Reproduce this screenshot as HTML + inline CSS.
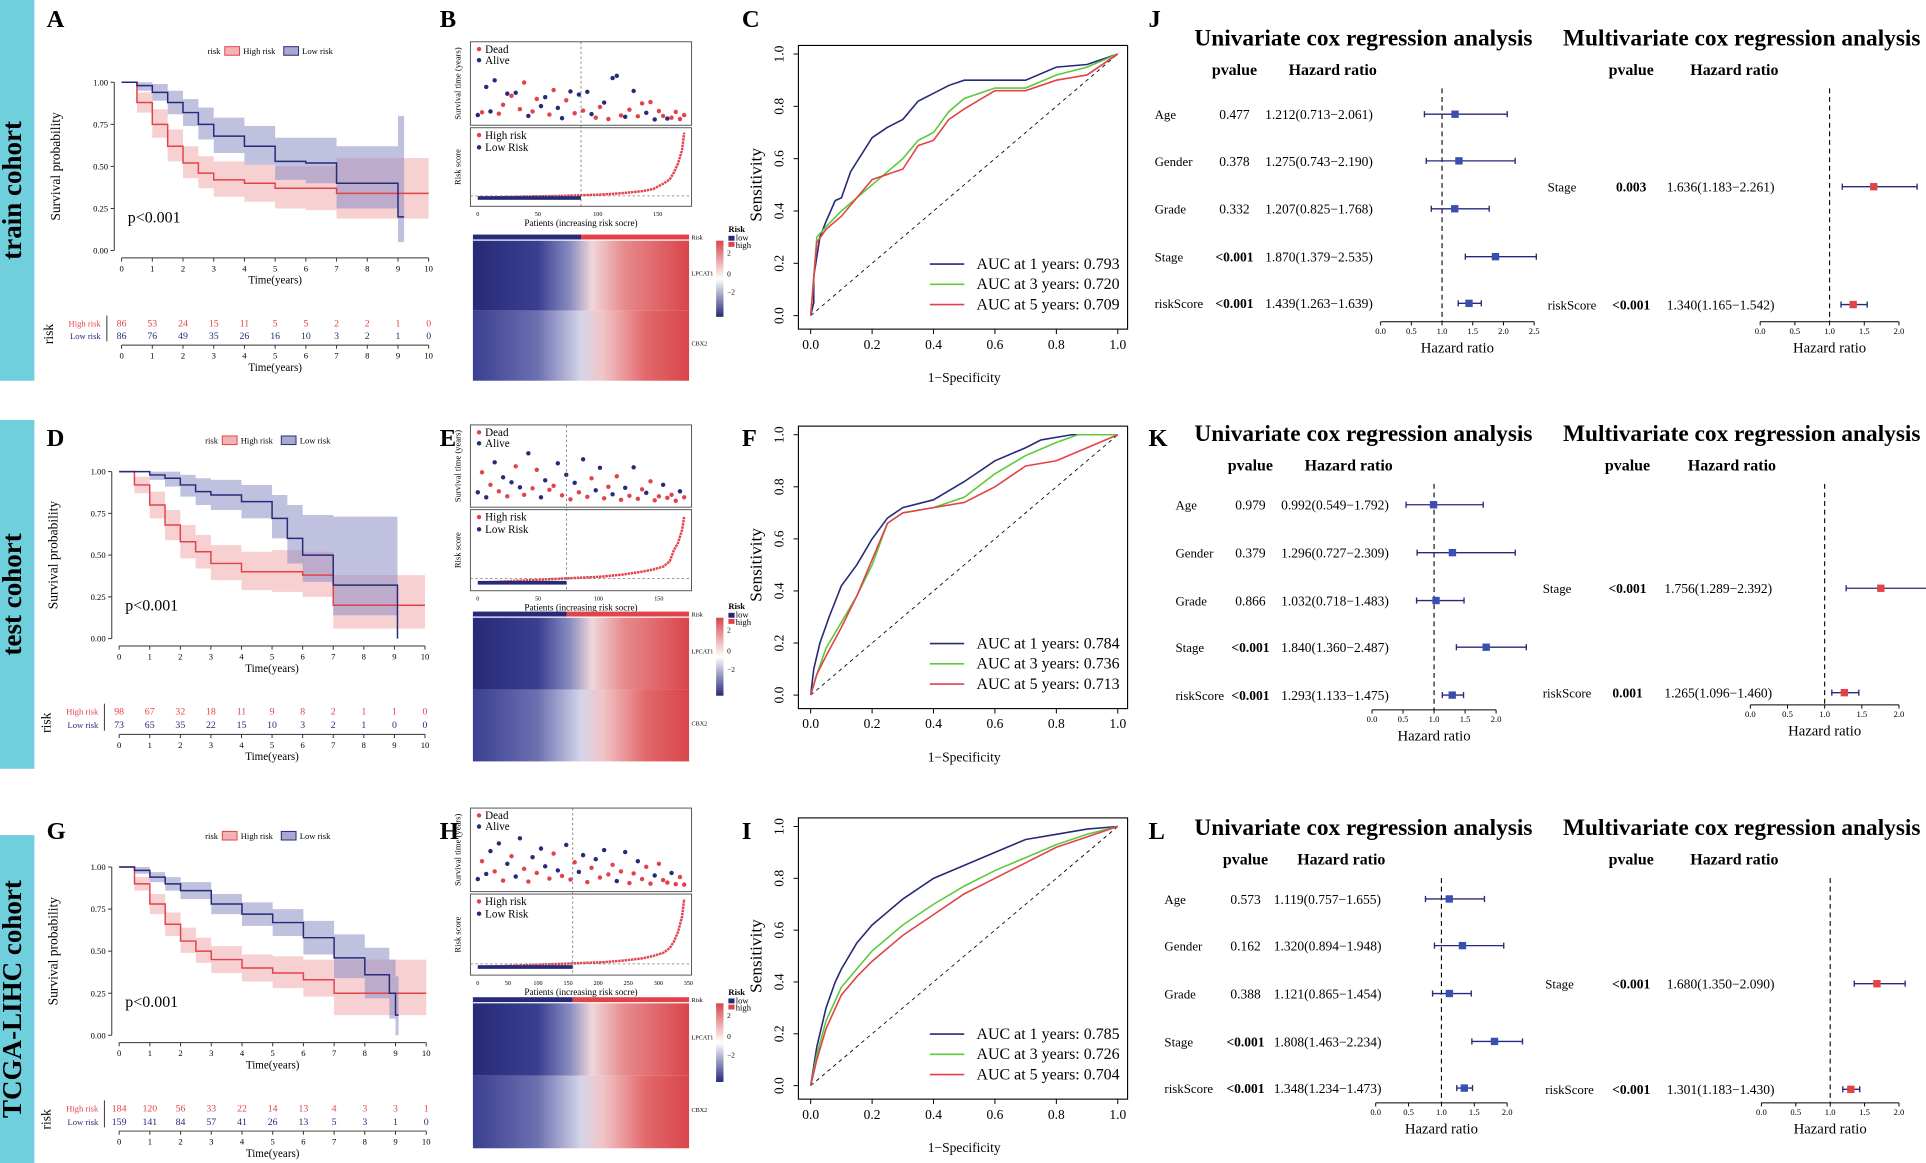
<!DOCTYPE html>
<html><head><meta charset="utf-8"><style>
html,body{margin:0;padding:0;background:#fff;width:1926px;height:1163px;overflow:hidden}
svg{display:block}
text{font-family:"Liberation Serif",serif}
</style></head><body>
<svg id="fig" width="1926" height="1163" viewBox="0 0 1568 947" preserveAspectRatio="none" xmlns="http://www.w3.org/2000/svg"></svg>
<script>
// ---------- DATA ----------
const kmTimes = [0,1,2,3,4,5,6,7,8,9,10];
const trainHighN = [86,53,24,15,11,5,5,2,2,1,0];
const trainLowN = [86,76,49,35,26,16,10,3,2,1,0];
const testHighN = [98,67,32,18,11,9,8,2,1,1,0];
const testLowN = [73,65,35,22,15,10,3,2,1,0,0];
const tcgaHighN = [184,120,56,33,22,14,13,4,3,3,1];
const tcgaLowN = [159,141,84,57,41,26,13,5,3,1,0];

const trainHighT = [0,0.5,1,1.5,2,2.5,3,4,5,6,7,8,10];
const trainHighS = [1,0.88,0.75,0.62,0.52,0.46,0.42,0.40,0.37,0.37,0.34,0.34,0.34];
const trainHighL = [1,0.82,0.67,0.53,0.43,0.37,0.32,0.29,0.25,0.24,0.19,0.19,0.19];
const trainHighU = [1,0.94,0.84,0.72,0.62,0.56,0.53,0.51,0.50,0.50,0.55,0.55,0.55];
const trainLowT = [0,0.5,1,1.5,2,2.5,3,4,5,6,7,8,9,9.2];
const trainLowS = [1,0.98,0.94,0.88,0.82,0.75,0.68,0.62,0.53,0.52,0.40,0.40,0.20,0.20];
const trainLowL = [1,0.95,0.89,0.81,0.74,0.66,0.58,0.51,0.42,0.40,0.25,0.25,0.05,0.05];
const trainLowU = [1,1,0.99,0.95,0.90,0.85,0.79,0.74,0.67,0.67,0.62,0.62,0.80,0.80];

const testHighT = [0,0.5,1,1.5,2,2.5,3,4,5,6,7,8,9,10];
const testHighS = [1,0.92,0.80,0.68,0.58,0.52,0.45,0.40,0.40,0.38,0.20,0.20,0.20,0.20];
const testHighL = [1,0.87,0.72,0.59,0.48,0.42,0.35,0.29,0.28,0.25,0.06,0.06,0.06,0.06];
const testHighU = [1,0.97,0.88,0.77,0.68,0.62,0.56,0.52,0.53,0.52,0.38,0.38,0.38,0.38];
const testLowT = [0,1,1.5,2,2.5,3,4,5,5.5,6,7,8,9,9.1];
const testLowS = [1,0.98,0.96,0.92,0.88,0.86,0.82,0.72,0.60,0.50,0.32,0.32,0.32,0];
const testLowL = [1,0.95,0.91,0.85,0.80,0.77,0.72,0.60,0.45,0.34,0.14,0.14,0.14,0];
const testLowU = [1,1,1,0.98,0.96,0.95,0.92,0.86,0.80,0.74,0.73,0.73,0.73,0.73];

const tcgaHighT = [0,0.5,1,1.5,2,2.5,3,4,5,6,7,8,9,10];
const tcgaHighS = [1,0.9,0.78,0.66,0.56,0.50,0.45,0.40,0.37,0.33,0.25,0.25,0.25,0.25];
const tcgaHighL = [1,0.86,0.72,0.59,0.49,0.43,0.37,0.32,0.28,0.23,0.12,0.12,0.12,0.12];
const tcgaHighU = [1,0.94,0.84,0.73,0.64,0.58,0.53,0.48,0.47,0.45,0.45,0.45,0.45,0.45];
const tcgaLowT = [0,0.5,1,1.5,2,3,4,5,6,7,8,8.8,9,9.1];
const tcgaLowS = [1,0.98,0.94,0.90,0.86,0.78,0.72,0.67,0.58,0.46,0.36,0.25,0.12,0.12];
const tcgaLowL = [1,0.96,0.91,0.86,0.81,0.72,0.65,0.59,0.48,0.34,0.22,0.10,0.00,0.00];
const tcgaLowU = [1,1,0.97,0.94,0.91,0.84,0.79,0.75,0.68,0.60,0.52,0.45,0.35,0.35];

// ROC
const rocTrain1X = [0,0.01,0.01,0.03,0.05,0.08,0.1,0.13,0.2,0.25,0.3,0.35,0.4,0.45,0.5,0.6,0.7,0.8,0.9,1];
const rocTrain1Y = [0,0.05,0.15,0.3,0.36,0.44,0.45,0.55,0.68,0.72,0.75,0.82,0.85,0.88,0.9,0.9,0.9,0.95,0.96,1];
const rocTrain3X = [0,0.02,0.05,0.1,0.15,0.2,0.3,0.35,0.4,0.45,0.5,0.6,0.7,0.8,0.9,1];
const rocTrain3Y = [0,0.3,0.34,0.4,0.45,0.5,0.6,0.67,0.7,0.78,0.83,0.87,0.87,0.92,0.95,1];
const rocTrain5X = [0,0.02,0.05,0.1,0.15,0.2,0.3,0.35,0.4,0.45,0.5,0.6,0.7,0.8,0.9,1];
const rocTrain5Y = [0,0.28,0.33,0.38,0.45,0.52,0.56,0.65,0.67,0.75,0.79,0.86,0.86,0.9,0.92,1];
const rocTest1X = [0,0.01,0.03,0.06,0.1,0.15,0.2,0.25,0.3,0.4,0.5,0.6,0.7,0.75,0.85,1];
const rocTest1Y = [0,0.1,0.2,0.3,0.42,0.5,0.6,0.68,0.72,0.75,0.82,0.9,0.95,0.98,1,1];
const rocTest3X = [0,0.02,0.05,0.1,0.15,0.2,0.25,0.3,0.4,0.5,0.6,0.7,0.8,0.87,1];
const rocTest3Y = [0,0.08,0.18,0.28,0.38,0.5,0.66,0.7,0.72,0.76,0.85,0.92,0.97,1,1];
const rocTest5X = [0,0.02,0.05,0.1,0.15,0.2,0.25,0.3,0.4,0.5,0.6,0.7,0.8,0.9,1];
const rocTest5Y = [0,0.08,0.15,0.26,0.38,0.52,0.66,0.7,0.72,0.74,0.8,0.88,0.9,0.95,1];
const rocTcga1X = [0,0.02,0.05,0.08,0.1,0.15,0.2,0.3,0.4,0.5,0.6,0.7,0.8,0.9,1];
const rocTcga1Y = [0,0.15,0.3,0.4,0.45,0.55,0.62,0.72,0.8,0.85,0.9,0.95,0.97,0.99,1];
const rocTcga3X = [0,0.02,0.05,0.1,0.15,0.2,0.3,0.4,0.5,0.6,0.7,0.8,0.9,1];
const rocTcga3Y = [0,0.12,0.25,0.38,0.45,0.52,0.62,0.7,0.77,0.83,0.88,0.93,0.97,1];
const rocTcga5X = [0,0.02,0.05,0.1,0.15,0.2,0.3,0.4,0.5,0.6,0.7,0.8,0.9,1];
const rocTcga5Y = [0,0.1,0.22,0.35,0.42,0.48,0.58,0.66,0.74,0.8,0.86,0.92,0.96,1];
const aucLabels = ["AUC at 1 years: ","AUC at 3 years: ","AUC at 5 years: "];
const aucTrain = ["0.793","0.720","0.709"];
const aucTest = ["0.784","0.736","0.713"];
const aucTcga = ["0.785","0.726","0.704"];

// Risk plots
const trainSurv = [1.2,1.8,7.5,2,9,1.5,3.5,6,5.5,6.2,2.5,8.5,1,2,4.8,3.2,5.2,1.3,6.8,2.8,0.5,4.5,6.5,1.6,5.8,2.2,6.4,1.4,0.6,3,4,0.3,9.5,10,1.1,0.8,2.4,6.6,0.9,3.8,1.7,4.1,0.2,2.1,1,0.4,0.6,1.9,0.3,1.2];
const trainDead = [0,1,0,0,0,1,1,0,1,0,1,1,0,1,1,0,0,1,1,0,0,1,0,1,0,1,0,0,1,1,0,1,0,0,1,0,1,0,1,1,0,1,0,1,1,0,1,1,1,1];
const testSurv = [2,6,1,3.5,8,2.2,5,1.2,4,7.2,3,1.5,9.8,2.8,6.5,1,4.4,2.5,3.3,7.8,1.4,5.5,0.6,3.9,2,8.6,1.1,4.8,2.4,6.9,0.8,3.1,1.6,5.2,0.5,2.9,1.3,7,0.7,2.6,1.9,4.2,0.4,1.2,3.5,0.9,1.5,0.3,2.2,1];
const testDead = [0,1,0,1,0,1,0,1,0,1,0,1,0,1,1,0,0,1,1,0,1,0,1,0,1,0,1,1,0,0,1,1,0,1,1,0,1,0,1,1,0,1,1,1,0,1,1,1,0,1];
const tcgaSurv = [1.5,5,2.5,7,3,8.5,1.2,4.5,6,2,9.5,3.5,1,5.8,2.7,7.5,4,1.6,6.5,3.2,2.1,8.2,1.4,4.8,2.9,6.2,0.9,3.7,5.4,1.8,7.2,2.4,4.3,1.1,3,6.8,0.7,2.6,5,1.5,3.9,0.6,2.2,4.5,1.3,0.8,2.7,0.5,1.9,0.4];
const tcgaDead = [0,1,0,0,1,0,1,0,1,0,0,1,1,0,1,0,0,1,1,0,1,0,1,1,0,0,1,1,0,1,0,1,1,0,1,0,1,1,0,1,1,1,0,1,1,1,0,1,1,1];
const riskQ = [0,0.1,0.2,0.3,0.4,0.5,0.6,0.7,0.8,0.85,0.9,0.93,0.95,0.97,0.99,1];
const trainRisk = [0.5,0.6,0.7,0.75,0.8,0.9,1.0,1.2,1.5,1.8,2.6,3.2,4.2,5.5,7.5,10];
const testRisk = [0.3,0.4,0.5,0.6,0.7,0.8,0.9,1.1,1.4,1.6,1.9,2.4,3.5,4.2,5.5,6.8];
const tcgaRisk = [0.4,0.5,0.6,0.7,0.8,0.9,1.0,1.2,1.5,1.8,2.2,2.8,3.6,4.8,6.8,9];

// Forest
const uniVars = ["Age","Gender","Grade","Stage","riskScore"];
const multiVars = ["Stage","riskScore"];
const jUniP = ["0.477","0.378","0.332","<0.001","<0.001"];
const jUniHR = [1.212,1.275,1.207,1.870,1.439];
const jUniLo = [0.713,0.743,0.825,1.379,1.263];
const jUniHi = [2.061,2.190,1.768,2.535,1.639];
const jMulP = ["0.003","<0.001"];
const jMulHR = [1.636,1.340];
const jMulLo = [1.183,1.165];
const jMulHi = [2.261,1.542];
const kUniP = ["0.979","0.379","0.866","<0.001","<0.001"];
const kUniHR = [0.992,1.296,1.032,1.840,1.293];
const kUniLo = [0.549,0.727,0.718,1.360,1.133];
const kUniHi = [1.792,2.309,1.483,2.487,1.475];
const kMulP = ["<0.001","0.001"];
const kMulHR = [1.756,1.265];
const kMulLo = [1.289,1.096];
const kMulHi = [2.392,1.460];
const lUniP = ["0.573","0.162","0.388","<0.001","<0.001"];
const lUniHR = [1.119,1.320,1.121,1.808,1.348];
const lUniLo = [0.757,0.894,0.865,1.463,1.234];
const lUniHi = [1.655,1.948,1.454,2.234,1.473];
const lMulP = ["<0.001","<0.001"];
const lMulHR = [1.680,1.301];
const lMulLo = [1.350,1.183];
const lMulHi = [2.090,1.430];

// ---------- HELPERS ----------
const NS = "http://www.w3.org/2000/svg";
const svg = document.getElementById('fig');
const RED = "#e2434a", NAVY = "#262a78", GREEN = "#5ec93c";
function mk(tag, attrs, parent){
  const e = document.createElementNS(NS, tag);
  for (const k in attrs) e.setAttribute(k, attrs[k]);
  (parent || svg).appendChild(e);
  return e;
}
function txt(x, y, s, size, opts, parent){
  const o = Object.assign({x:x, y:y, 'font-size':size, fill:'#000'}, opts || {});
  const e = mk('text', o, parent);
  e.textContent = s;
  return e;
}
function fmt(v){ return v.toFixed(3); }

// ---------- SIDE BARS & PANEL LABELS ----------
const sideBars = [[0,0,310,"train cohort"],[0,342,284,"test cohort"],[0,680,267,"TCGA-LIHC cohort"]];
sideBars.forEach(b => {
  const r = mk('rect', {x:b[0], y:b[1], width:28, height:b[2], fill:'#6fcfdc'});
  
  
  const cx = 12, cy = b[1] + b[2]/2;
  const t = txt(cx, cy, b[3], 22, {'font-weight':'bold', 'text-anchor':'middle', 'dominant-baseline':'middle', transform:`rotate(-90 ${cx} ${cy})`});
  
  
});
const panelLabels = [["A",38,22],["B",358,22],["C",604,22],["J",935,22],["D",38,363],["E",358,363],["F",604,363],["K",935,363],["G",38,683],["H",358,683],["I",604,683],["L",935,683]];
panelLabels.forEach(p => {
  const t = txt(p[1], p[2], p[0], 20, {'font-family':'Liberation Sans, sans-serif', 'font-weight':'bold'});
  
  
});

// ---------- KM ----------
function stepPath(T, S, sx, sy){
  let d = `M${sx(T[0])},${sy(S[0])}`;
  for (let i = 1; i < T.length; i++) d += ` H${sx(T[i])} V${sy(S[i])}`;
  return d;
}
function bandPath(T, L, U, sx, sy){
  let pts = [];
  for (let i = 0; i < T.length; i++){
    const tn = i < T.length-1 ? T[i+1] : T[i];
    pts.push([sx(T[i]), sy(U[i])], [sx(tn), sy(U[i])]);
  }
  let low = [];
  for (let i = 0; i < T.length; i++){
    const tn = i < T.length-1 ? T[i+1] : T[i];
    low.push([sx(T[i]), sy(L[i])], [sx(tn), sy(L[i])]);
  }
  pts = pts.concat(low.reverse());
  return 'M' + pts.map(p => p.join(',')).join(' L') + ' Z';
}
function km(c){
  const g = mk('g', {});
  
  
  const sx = t => c.x0 + t/10*(c.x1-c.x0);
  const sy = s => c.yb - s*(c.yb-c.yt);
  const lx = c.x0 + 70, ly = c.yt - 26;
  txt(lx, ly+3, "risk", 7, {}, g);
  mk('rect', {x:lx+14, y:ly-3, width:12, height:7, fill:'#f3b3b5', stroke:RED, 'stroke-width':0.8}, g);
  txt(lx+29, ly+3, "High risk", 7, {}, g);
  mk('rect', {x:lx+62, y:ly-3, width:12, height:7, fill:'#a8a8d0', stroke:NAVY, 'stroke-width':0.8}, g);
  txt(lx+77, ly+3, "Low risk", 7, {}, g);
  const bh = mk('path', {d:bandPath(c.hT,c.hL,c.hU,sx,sy), fill:'#f1a9ab', opacity:0.55}, g);
  
  
  const bl = mk('path', {d:bandPath(c.lT,c.lL,c.lU,sx,sy), fill:'#8c8cc4', opacity:0.55}, g);
  
  
  const ph = mk('path', {d:stepPath(c.hT,c.hS,sx,sy), fill:'none', stroke:RED, 'stroke-width':1.2}, g);
  
  
  const pl = mk('path', {d:stepPath(c.lT,c.lS,sx,sy), fill:'none', stroke:NAVY, 'stroke-width':1.2}, g);
  
  
  const ax = c.x0 - 6;
  mk('line', {x1:ax, y1:sy(0), x2:ax, y2:sy(1), stroke:'#333', 'stroke-width':0.8}, g);
  [0,0.25,0.5,0.75,1].forEach(v => {
    mk('line', {x1:ax-3, y1:sy(v), x2:ax, y2:sy(v), stroke:'#333', 'stroke-width':0.8}, g);
    txt(ax-5, sy(v)+2.5, v.toFixed(2), 7, {'text-anchor':'end'}, g);
  });
  const ay = c.yb + 6;
  mk('line', {x1:sx(0), y1:ay, x2:sx(10), y2:ay, stroke:'#333', 'stroke-width':0.8}, g);
  kmTimes.forEach(t => {
    mk('line', {x1:sx(t), y1:ay, x2:sx(t), y2:ay+3, stroke:'#333', 'stroke-width':0.8}, g);
    txt(sx(t), ay+11, String(t), 7, {'text-anchor':'middle'}, g);
  });
  txt((c.x0+c.x1)/2, ay+21, "Time(years)", 9, {'text-anchor':'middle'}, g);
  const yl = txt(c.x0-50, (c.yt+c.yb)/2, "Survival probability", 11, {'text-anchor':'middle', transform:`rotate(-90 ${c.x0-50} ${(c.yt+c.yb)/2})`}, g);
  
  
  txt(c.x0+5, c.pvy, "p<0.001", 13, {}, g);
  txt(c.x0-17, c.ty1+3, "High risk", 7, {'text-anchor':'end', fill:RED}, g);
  txt(c.x0-17, c.ty2+3, "Low risk", 7, {'text-anchor':'end', fill:NAVY}, g);
  txt(c.x0-56, (c.ty1+c.ty2)/2+4, "risk", 11, {'text-anchor':'middle', transform:`rotate(-90 ${c.x0-56} ${(c.ty1+c.ty2)/2+4})`}, g);
  kmTimes.forEach((t,i) => {
    txt(sx(t), c.ty1+3, String(c.hN[i]), 8, {'text-anchor':'middle', fill:RED}, g);
    txt(sx(t), c.ty2+3, String(c.lN[i]), 8, {'text-anchor':'middle', fill:NAVY}, g);
  });
  const ty = c.ty2 + 8;
  mk('line', {x1:sx(0), y1:ty, x2:sx(10), y2:ty, stroke:'#333', 'stroke-width':0.8}, g);
  mk('line', {x1:c.x0-12, y1:c.ty1-6, x2:c.x0-12, y2:c.ty2+5, stroke:'#333', 'stroke-width':0.8}, g);
  kmTimes.forEach(t => {
    mk('line', {x1:sx(t), y1:ty, x2:sx(t), y2:ty+3, stroke:'#333', 'stroke-width':0.8}, g);
    txt(sx(t), ty+11, String(t), 7, {'text-anchor':'middle'}, g);
  });
  txt((c.x0+c.x1)/2, ty+21, "Time(years)", 9, {'text-anchor':'middle'}, g);
}
km({name:'km-train', x0:99, x1:349, yt:67, yb:204, pvy:181, ty1:263, ty2:273, hT:trainHighT,hS:trainHighS,hL:trainHighL,hU:trainHighU, lT:trainLowT,lS:trainLowS,lL:trainLowL,lU:trainLowU, hN:trainHighN, lN:trainLowN});
km({name:'km-test', x0:97, x1:346, yt:384, yb:520, pvy:497, ty1:579, ty2:590, hT:testHighT,hS:testHighS,hL:testHighL,hU:testHighU, lT:testLowT,lS:testLowS,lL:testLowL,lU:testLowU, hN:testHighN, lN:testLowN});
km({name:'km-tcga', x0:97, x1:347, yt:706, yb:843, pvy:820, ty1:902, ty2:913, hT:tcgaHighT,hS:tcgaHighS,hL:tcgaHighL,hU:tcgaHighU, lT:tcgaLowT,lS:tcgaLowS,lL:tcgaLowL,lU:tcgaLowU, hN:tcgaHighN, lN:tcgaLowN});

// ---------- RISK PLOTS ----------
function riskPlot(c){
  const g = mk('g', {});
  
  
  const X0 = 383, X1 = 563;
  const n = c.surv.length;
  const px = i => X0 + 6 + i/(n-1)*(X1-X0-12);
  const cut = X0 + 6 + c.cut*(X1-X0-12);
  mk('rect', {x:X0, y:c.t0, width:X1-X0, height:c.t1-c.t0, fill:'none', stroke:'#555', 'stroke-width':0.8}, g);
  const sy = v => c.t1 - 4 - v/c.smax*(c.t1-c.t0-10);
  c.surv.forEach((v,i) => {
    const d = mk('circle', {cx:px(i), cy:sy(v), r:1.8, fill:c.dead[i] ? RED : NAVY}, g);
    
    
  });
  mk('circle', {cx:X0+7, cy:c.t0+6, r:1.8, fill:RED}, g);
  txt(X0+12, c.t0+9, "Dead", 9, {}, g);
  mk('circle', {cx:X0+7, cy:c.t0+15, r:1.8, fill:NAVY}, g);
  txt(X0+12, c.t0+18, "Alive", 9, {}, g);
  txt(X0-8, (c.t0+c.t1)/2, "Survival time (years)", 7, {'text-anchor':'middle', transform:`rotate(-90 ${X0-8} ${(c.t0+c.t1)/2})`}, g);
  mk('rect', {x:X0, y:c.r0, width:X1-X0, height:c.r1-c.r0, fill:'none', stroke:'#555', 'stroke-width':0.8}, g);
  const ry = v => c.r1 - 4 - v/c.rmax*(c.r1-c.r0-8);
  const rx = q => X0 + 6 + q*(X1-X0-12);
  let pts = c.risk.map((v,i) => rx(riskQ[i]) + ',' + ry(v)).join(' ');
  const pl1 = mk('polyline', {points:pts, fill:'none', stroke:RED, 'stroke-width':2, 'stroke-dasharray':'2 0.6'}, g);
  
  
  mk('rect', {x:X0+6, y:ry(c.risk[0])-1.5, width:cut-X0-6, height:3, fill:NAVY}, g);
  mk('line', {x1:X0, y1:ry(c.risk[4]), x2:X1, y2:ry(c.risk[4]), stroke:'#777', 'stroke-width':0.6, 'stroke-dasharray':'2 2'}, g);
  mk('circle', {cx:X0+7, cy:c.r0+6, r:1.8, fill:RED}, g);
  txt(X0+12, c.r0+9, "High risk", 9, {}, g);
  mk('circle', {cx:X0+7, cy:c.r0+16, r:1.8, fill:NAVY}, g);
  txt(X0+12, c.r0+19, "Low Risk", 9, {}, g);
  txt(X0-8, (c.r0+c.r1)/2, "Risk score", 7, {'text-anchor':'middle', transform:`rotate(-90 ${X0-8} ${(c.r0+c.r1)/2})`}, g);
  mk('line', {x1:cut, y1:c.t0, x2:cut, y2:c.r1, stroke:'#666', 'stroke-width':0.6, 'stroke-dasharray':'2 2'}, g);
  c.ticks.forEach(t => {
    txt(X0 + 6 + t/c.np*(X1-X0-12), c.r1+8, String(t), 5, {'text-anchor':'middle'}, g);
  });
  txt((X0+X1)/2, c.r1+16, "Patients (increasing risk socre)", 7.5, {'text-anchor':'middle'}, g);
  const h0 = c.h0, h1 = c.h1, hm = (h0+h1)/2;
  const hx0 = 385, hx1 = 561;
  mk('rect', {x:hx0, y:h0-5, width:cut-hx0, height:4, fill:NAVY}, g);
  mk('rect', {x:cut, y:h0-5, width:hx1-cut, height:4, fill:RED}, g);
  const hmap1 = mk('rect', {x:hx0, y:h0, width:hx1-hx0, height:hm-h0, fill:'url(#hg1)'}, g);
  
  
  const hmap2 = mk('rect', {x:hx0, y:hm, width:hx1-hx0, height:h1-hm, fill:'url(#hg2)'}, g);
  
  
  txt(hx1+2, h0-1, "Risk", 5, {}, g);
  txt(hx1+2, (h0+hm)/2, "LPCAT1", 5, {}, g);
  txt(hx1+2, (hm+h1)/2, "CBX2", 5, {}, g);
  mk('rect', {x:583, y:h0, width:6, height:hm-h0+5, fill:'url(#cb)'}, g);
  txt(592, h0+12, "2", 6, {}, g);
  txt(592, h0+29, "0", 6, {}, g);
  txt(592, h0+44, "−2", 6, {}, g);
  txt(593, h0-7, "Risk", 7, {'font-weight':'bold'}, g);
  mk('rect', {x:593, y:h0-4, width:5, height:4, fill:NAVY}, g);
  txt(599, h0, "low", 7, {}, g);
  mk('rect', {x:593, y:h0+1, width:5, height:4, fill:RED}, g);
  txt(599, h0+6, "high", 7, {}, g);
}
const defs = mk('defs', {});
function grad(id, stops, vertical){
  const lg = mk('linearGradient', vertical ? {id:id, x1:0, y1:1, x2:0, y2:0} : {id:id, x1:0, y1:0, x2:1, y2:0}, defs);
  stops.forEach(s => mk('stop', {offset:s[0], 'stop-color':s[1]}, lg));
}
grad('hg1', [[0,'#262a78'],[0.3,'#3a3f90'],[0.45,'#8a8dc2'],[0.55,'#f0d6d8'],[0.7,'#e78a8d'],[1,'#d9454a']]);
grad('hg2', [[0,'#3a3f90'],[0.3,'#6d70b0'],[0.5,'#d4d4ea'],[0.6,'#f1c5c7'],[0.8,'#e2686c'],[1,'#d9454a']]);
grad('cb', [[0,'#262a78'],[0.5,'#ffffff'],[1,'#d9454a']], true);

riskPlot({name:'risk-plot-train', surv:trainSurv, dead:trainDead, smax:16, risk:trainRisk, rmax:10, cut:0.5, t0:34, t1:102, r0:104, r1:168, h0:196, h1:310, ticks:[0,50,100,150], np:172});
riskPlot({name:'risk-plot-test', surv:testSurv, dead:testDead, smax:14, risk:testRisk, rmax:7, cut:0.43, t0:346, t1:413, r0:415, r1:481, h0:503, h1:620, ticks:[0,50,100,150], np:171});
riskPlot({name:'risk-plot-tcga', surv:tcgaSurv, dead:tcgaDead, smax:14, risk:tcgaRisk, rmax:9, cut:0.46, t0:658, t1:726, r0:728, r1:794, h0:817, h1:935, ticks:[0,50,100,150,200,250,300,350], np:343});

// ---------- ROC ----------
function roc(c){
  const g = mk('g', {});
  
  
  const sx = v => 660 + v*250, sy = v => c.y0 - v*(c.y0-c.y1);
  mk('rect', {x:650, y:c.y1-7, width:268, height:c.y0-c.y1+18, fill:'none', stroke:'#000', 'stroke-width':0.9}, g);
  mk('line', {x1:sx(0), y1:sy(0), x2:sx(1), y2:sy(1), stroke:'#000', 'stroke-width':0.7, 'stroke-dasharray':'3 3'}, g);
  const cols = [NAVY, GREEN, RED];
  c.series.forEach((s,k) => {
    const p = mk('polyline', {points:s[0].map((x,i) => sx(x)+','+sy(s[1][i])).join(' '), fill:'none', stroke:cols[k], 'stroke-width':1.3}, g);
    
    
  });
  [0,0.2,0.4,0.6,0.8,1].forEach(v => {
    mk('line', {x1:sx(v), y1:c.y0+11, x2:sx(v), y2:c.y0+15, stroke:'#000', 'stroke-width':0.8}, g);
    txt(sx(v), c.y0+27, v.toFixed(1), 11, {'text-anchor':'middle'}, g);
    mk('line', {x1:646, y1:sy(v), x2:650, y2:sy(v), stroke:'#000', 'stroke-width':0.8}, g);
    txt(638, sy(v), v.toFixed(1), 11, {'text-anchor':'middle', transform:`rotate(-90 638 ${sy(v)})`}, g);
  });
  txt(785, c.y0+54, "1−Specificity", 11, {'text-anchor':'middle'}, g);
  const ly = (c.y0+c.y1)/2;
  txt(620, ly, "Sensitivity", 14, {'text-anchor':'middle', transform:`rotate(-90 620 ${ly})`}, g);
  c.auc.forEach((a,k) => {
    const yy = c.y0 - 38 + k*16.5;
    mk('line', {x1:757, y1:yy-4, x2:785, y2:yy-4, stroke:cols[k], 'stroke-width':1.3}, g);
    txt(795, yy, aucLabels[k] + a, 13, {}, g);
  });
}
roc({name:'roc-train', y0:257, y1:44, auc:aucTrain, series:[[rocTrain1X,rocTrain1Y],[rocTrain3X,rocTrain3Y],[rocTrain5X,rocTrain5Y]]});
roc({name:'roc-test', y0:566, y1:354, auc:aucTest, series:[[rocTest1X,rocTest1Y],[rocTest3X,rocTest3Y],[rocTest5X,rocTest5Y]]});
roc({name:'roc-tcga', y0:884, y1:673, auc:aucTcga, series:[[rocTcga1X,rocTcga1Y],[rocTcga3X,rocTcga3Y],[rocTcga5X,rocTcga5Y]]});

// ---------- FOREST ----------
function forest(c){
  const g = mk('g', {});
  
  
  const sx = v => c.ax0 + v/c.amax*(c.ax1-c.ax0);
  txt(c.titleX, c.titleY, c.title, 19, {'font-weight':'bold', 'text-anchor':'middle'}, g);
  txt(c.pX, c.titleY+24, "pvalue", 13, {'font-weight':'bold', 'text-anchor':'middle'}, g);
  txt(c.hrX+55, c.titleY+24, "Hazard ratio", 13, {'font-weight':'bold', 'text-anchor':'middle'}, g);
  mk('line', {x1:sx(1), y1:c.titleY+35, x2:sx(1), y2:c.axY, stroke:'#000', 'stroke-width':0.9, 'stroke-dasharray':'4 3'}, g);
  c.vars.forEach((v,i) => {
    const y = c.rows[i];
    txt(c.labX, y+4, v, 10.5, {}, g);
    txt(c.pX, y+4, c.p[i], 11, {'text-anchor':'middle', 'font-weight': c.p[i].startsWith('<') || c.p[i]==='0.003' || c.p[i]==='0.001' ? 'bold' : 'normal'}, g);
    txt(c.hrX, y+4, fmt(c.hr[i]) + '(' + fmt(c.lo[i]) + '−' + fmt(c.hi[i]) + ')', 11, {}, g);
    mk('line', {x1:sx(c.lo[i]), y1:y, x2:sx(c.hi[i]), y2:y, stroke:NAVY, 'stroke-width':1.1}, g);
    mk('line', {x1:sx(c.lo[i]), y1:y-2.5, x2:sx(c.lo[i]), y2:y+2.5, stroke:NAVY, 'stroke-width':1.1}, g);
    mk('line', {x1:sx(c.hi[i]), y1:y-2.5, x2:sx(c.hi[i]), y2:y+2.5, stroke:NAVY, 'stroke-width':1.1}, g);
    const sq = mk('rect', {x:sx(c.hr[i])-3, y:y-3, width:6, height:6, fill:c.sq}, g);
    
    
  });
  mk('line', {x1:sx(0), y1:c.axY, x2:sx(c.amax), y2:c.axY, stroke:'#000', 'stroke-width':0.8}, g);
  for (let t = 0; t <= c.amax + 0.001; t += 0.5){
    mk('line', {x1:sx(t), y1:c.axY, x2:sx(t), y2:c.axY+3, stroke:'#000', 'stroke-width':0.8}, g);
    txt(sx(t), c.axY+10, t.toFixed(1), 7, {'text-anchor':'middle', 'font-family':'Liberation Sans, sans-serif'}, g);
  }
  txt((sx(0)+sx(c.amax))/2, c.axY+25, "Hazard ratio", 12, {'text-anchor':'middle', 'font-family':'Liberation Sans, sans-serif'}, g);
}
forest({name:'forest-j-uni', title:'Univariate cox regression analysis', titleX:1110, titleY:37, labX:940, pX:1005, hrX:1030, vars:uniVars, rows:[93,131,170,209,247], p:jUniP, hr:jUniHR, lo:jUniLo, hi:jUniHi, ax0:1124, ax1:1249, amax:2.5, axY:262, sq:'#3b4fb0'});
forest({name:'forest-j-multi', title:'Multivariate cox regression analysis', titleX:1418, titleY:37, labX:1260, pX:1328, hrX:1357, vars:multiVars, rows:[152,248], p:jMulP, hr:jMulHR, lo:jMulLo, hi:jMulHi, ax0:1433, ax1:1546, amax:2, axY:262, sq:RED});
forest({name:'forest-k-uni', title:'Univariate cox regression analysis', titleX:1110, titleY:359, labX:957, pX:1018, hrX:1043, vars:uniVars, rows:[411,450,489,527,566], p:kUniP, hr:kUniHR, lo:kUniLo, hi:kUniHi, ax0:1117, ax1:1218, amax:2, axY:578, sq:'#3b4fb0'});
forest({name:'forest-k-multi', title:'Multivariate cox regression analysis', titleX:1418, titleY:359, labX:1256, pX:1325, hrX:1355, vars:multiVars, rows:[479,564], p:kMulP, hr:kMulHR, lo:kMulLo, hi:kMulHi, ax0:1425, ax1:1546, amax:2, axY:574, sq:RED});
forest({name:'forest-l-uni', title:'Univariate cox regression analysis', titleX:1110, titleY:680, labX:948, pX:1014, hrX:1037, vars:uniVars, rows:[732,770,809,848,886], p:lUniP, hr:lUniHR, lo:lUniLo, hi:lUniHi, ax0:1120, ax1:1227, amax:2, axY:898, sq:'#3b4fb0'});
forest({name:'forest-l-multi', title:'Multivariate cox regression analysis', titleX:1418, titleY:680, labX:1258, pX:1328, hrX:1357, vars:multiVars, rows:[801,887], p:lMulP, hr:lMulHR, lo:lMulLo, hi:lMulHi, ax0:1434, ax1:1546, amax:2, axY:898, sq:RED});
</script>
</body></html>
